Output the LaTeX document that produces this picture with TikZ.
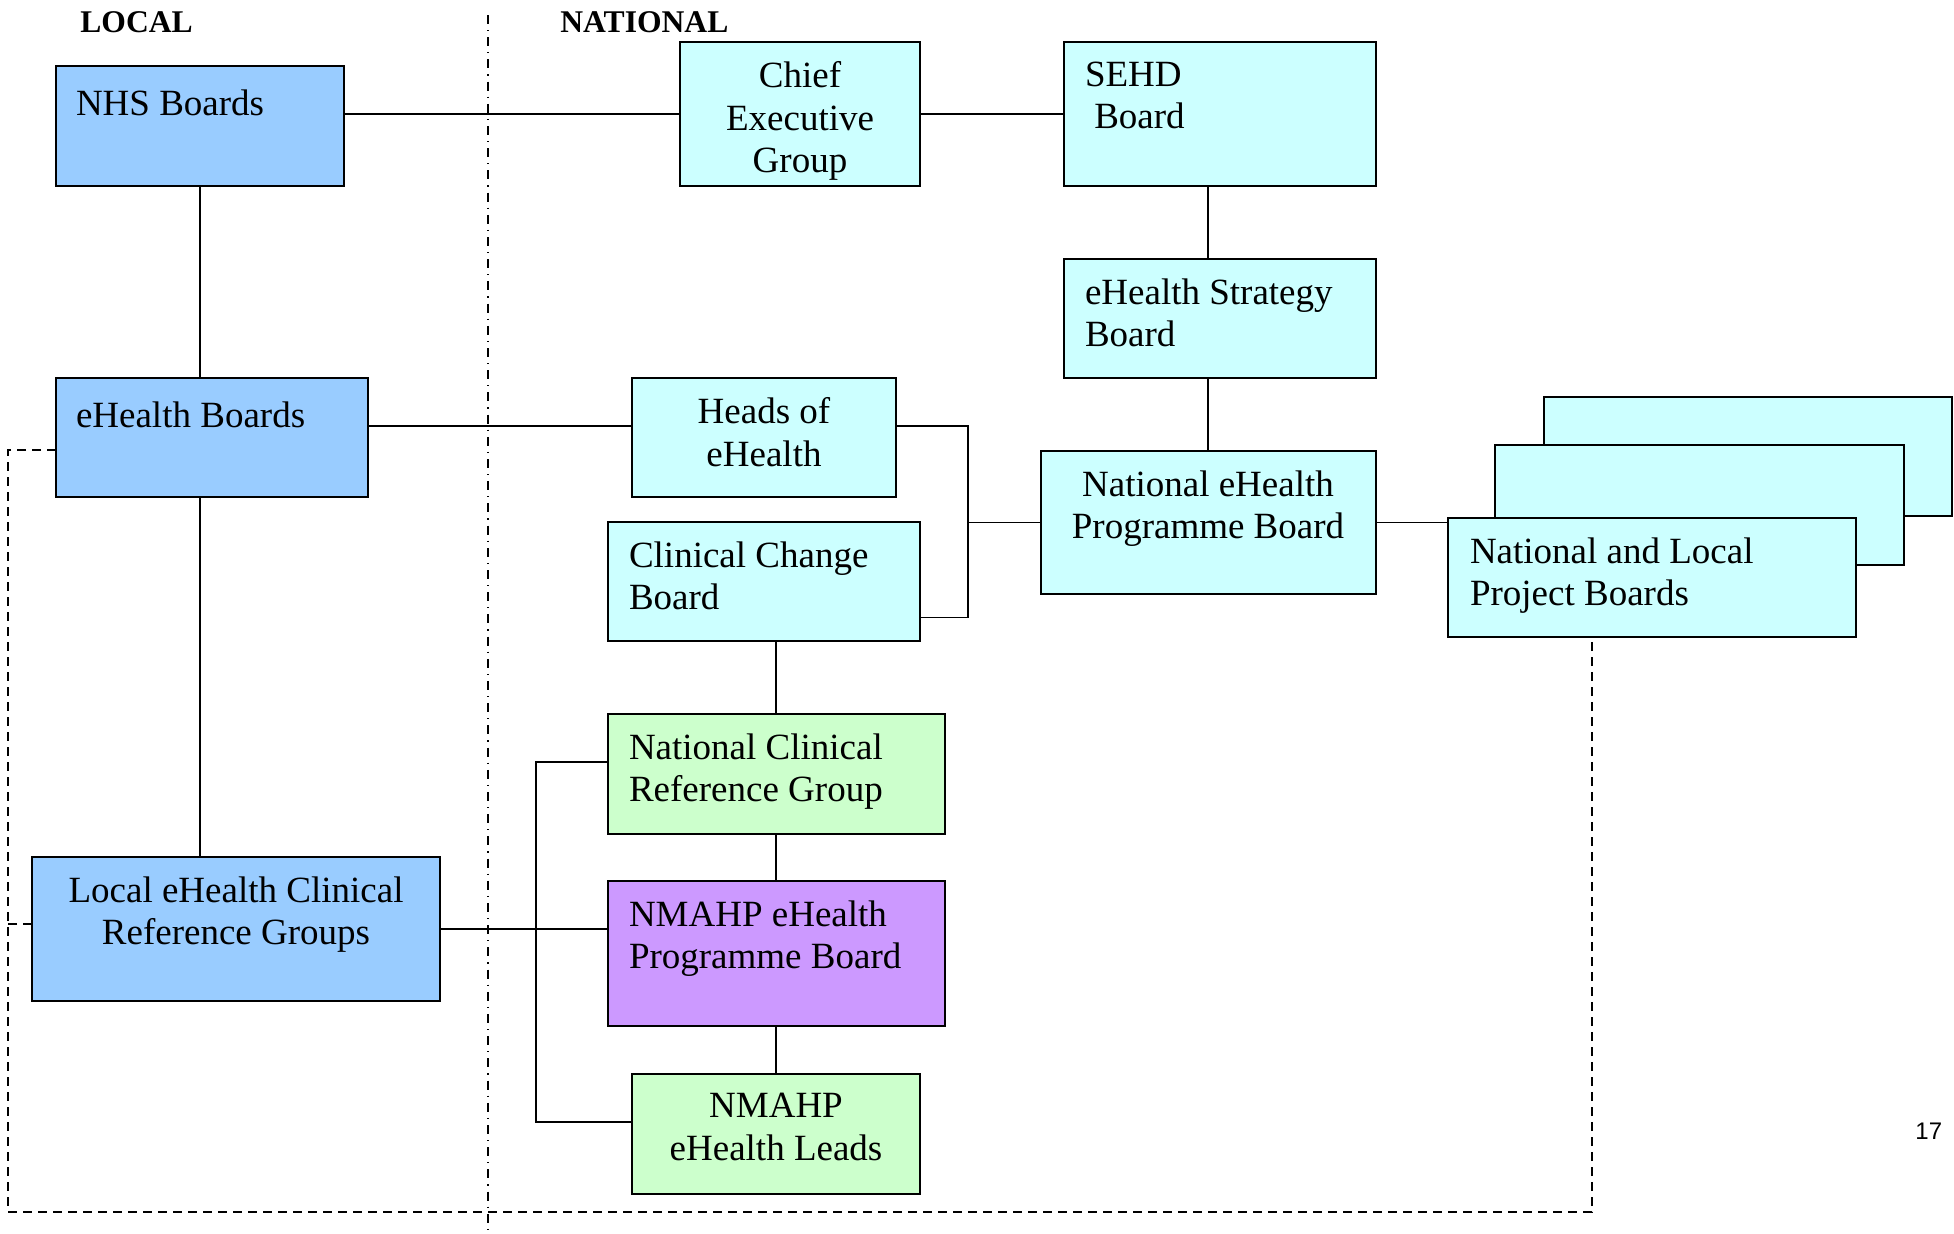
\documentclass[tikz,border=0pt]{standalone}
\usepackage{fontspec}
\setmainfont{Liberation Serif}
\newfontfamily\arialfont{Liberation Sans}
\definecolor{bluefill}{HTML}{99CCFF}
\definecolor{cyanfill}{HTML}{CCFFFF}
\definecolor{greenfill}{HTML}{CCFFCC}
\definecolor{purplefill}{HTML}{CC99FF}
\newcommand\mkbox[6]{\node[#2, anchor=north west, minimum width={(#5-#3)*0.5pt}, minimum height={(#6-#4)*0.5pt}] (#1) at (#3,#4) {};}
\tikzset{
  bx/.style={draw=black, line width=0.9pt, inner sep=0pt, outer sep=0pt},
  blu/.style={bx, fill=bluefill},
  cya/.style={bx, fill=cyanfill},
  grn/.style={bx, fill=greenfill},
  pur/.style={bx, fill=purplefill},
  txt/.style={inner sep=0pt, outer sep=0pt, font=\fontsize{18.5}{21.25}\selectfont, execute at begin node=\strut},
  tl/.style={txt, align=left, anchor=north west},
  tc/.style={txt, align=center, anchor=north},
  conn/.style={line width=0.7pt},
  dsh/.style={line width=0.7pt, dash pattern=on 4.5pt off 3pt},
  ddot/.style={line width=0.6pt, dash pattern=on 4.5pt off 3pt on 0.6pt off 3pt},
  hdr/.style={inner sep=0pt, font=\fontsize{15.8}{18}\selectfont\bfseries, anchor=base west},
}
\begin{document}
\begin{tikzpicture}[x=0.5pt, y=-0.5pt]
\fill[white] (0,0) rectangle (1954,1233);
\useasboundingbox (0,0) rectangle (1954,1233);

% divider
\coordinate (ddtop) at (488,15);
\coordinate (ddbot) at (488,1233);
\draw[ddot] (ddtop) -- (ddbot);

% boxes
\mkbox{nhs}{blu}{56}{66}{344}{186}
\mkbox{ceg}{cya}{680}{42}{920}{186}
\mkbox{sehd}{cya}{1064}{42}{1376}{186}
\mkbox{ehs}{cya}{1064}{259}{1376}{378}
\mkbox{ehb}{blu}{56}{378}{368}{497}
\mkbox{heads}{cya}{632}{378}{896}{497}
\mkbox{ccb}{cya}{608}{522}{920}{641}
\mkbox{nepb}{cya}{1041}{451}{1376}{594}
\mkbox{projback}{cya}{1544}{397}{1952}{516}
\mkbox{projmid}{cya}{1495}{445}{1904}{565}
\mkbox{projfront}{cya}{1448}{518}{1856}{637}
\mkbox{ncrg}{grn}{608}{714}{945}{834}
\mkbox{lehcrg}{blu}{32}{857}{440}{1001}
\mkbox{nmahppb}{pur}{608}{881}{945}{1026}
\mkbox{leads}{grn}{632}{1074}{920}{1194}

% helper coordinates
\coordinate (xs) at (1208,0);
\coordinate (xl) at (200,0);
\coordinate (y1) at (0,426);
\coordinate (xj) at (968,0);
\coordinate (ccby) at (0,617.5);
\coordinate (xc) at (776,0);
\coordinate (xb) at (536,0);
\coordinate (yb1) at (0,762);
\coordinate (yb2) at (0,1122);
\coordinate (xd) at (8,0);
\coordinate (yd) at (0,1212);
\coordinate (xp) at (1592,0);
\coordinate (ye) at (0,450);
\coordinate (yl) at (0,924);

% connectors
\draw[conn] (ceg.west) -- (ceg.west -| nhs.east);
\draw[conn] (ceg.east) -- (sehd.west);
\draw[conn] (sehd.south -| xs) -- (ehs.north -| xs);
\draw[conn] (ehs.south -| xs) -- (nepb.north -| xs);
\draw[conn] (nhs.south -| xl) -- (ehb.north -| xl);
\draw[conn] (ehb.south -| xl) -- (lehcrg.north -| xl);
\draw[conn] (ehb.east |- y1) -- (heads.west |- y1);
\draw[conn] (heads.east |- y1) -| (xj |- ccby) -- (ccb.east |- ccby);
\draw[conn] (xj |- nepb.west) -- (nepb.west);
\draw[conn] (nepb.east) -- (projfront.west |- nepb.east);
\draw[conn] (ccb.south -| xc) -- (ncrg.north -| xc);
\draw[conn] (ncrg.south -| xc) -- (nmahppb.north -| xc);
\draw[conn] (nmahppb.south -| xc) -- (leads.north -| xc);
\draw[conn] (lehcrg.east) -- (nmahppb.west |- lehcrg.east);
\draw[conn] (ncrg.west |- yb1) -| (xb |- yb2) -- (leads.west |- yb2);
\draw[dsh] (ehb.west |- ye) -- (xd |- ye) -- (xd |- yd) -- (xp |- yd) -- (projfront.south -| xp);
\draw[dsh] (lehcrg.west |- yl) -- (xd |- yl);

% texts
\node[tl] (t-nhs) at (76, 66+19.5) {NHS Boards};
\node[tc] (t-ceg) at (800, 42+19.5) {Chief\\Executive\\Group};
\node[tl] (t-sehd) at (1085, 42+19.5) {SEHD\\\hspace*{0.25em}Board};
\node[tl] (t-ehs) at (1085, 259+19.5) {eHealth Strategy\\Board};
\node[tl] (t-ehb) at (76, 378+19.5) {eHealth Boards};
\node[tc] (t-heads) at (764, 378+19.5) {Heads of\\eHealth};
\node[tl] (t-ccb) at (629, 522+19.5) {Clinical Change\\Board};
\node[tc] (t-nepb) at (1208, 451+19.5) {National eHealth\\Programme Board};
\node[tl] (t-proj) at (1470, 518+19.5) {National and Local\\Project Boards};
\node[tl] (t-ncrg) at (629, 714+19.5) {National Clinical\\Reference Group};
\node[tc] (t-lehcrg) at (236, 857+19.5) {Local eHealth Clinical\\Reference Groups};
\node[tl] (t-nmahppb) at (629, 881+19.5) {NMAHP eHealth\\Programme Board};
\node[tc] (t-leads) at (776, 1074+19.5) {NMAHP\\eHealth Leads};
\node[hdr] (local) at (80,32) {LOCAL};
\node[hdr] (national) at (560,32) {NATIONAL};
\node[inner sep=0pt, anchor=base west, font=\arialfont\fontsize{12}{14}\selectfont] (pg) at (1915,1139) {17};
\end{tikzpicture}
\end{document}
